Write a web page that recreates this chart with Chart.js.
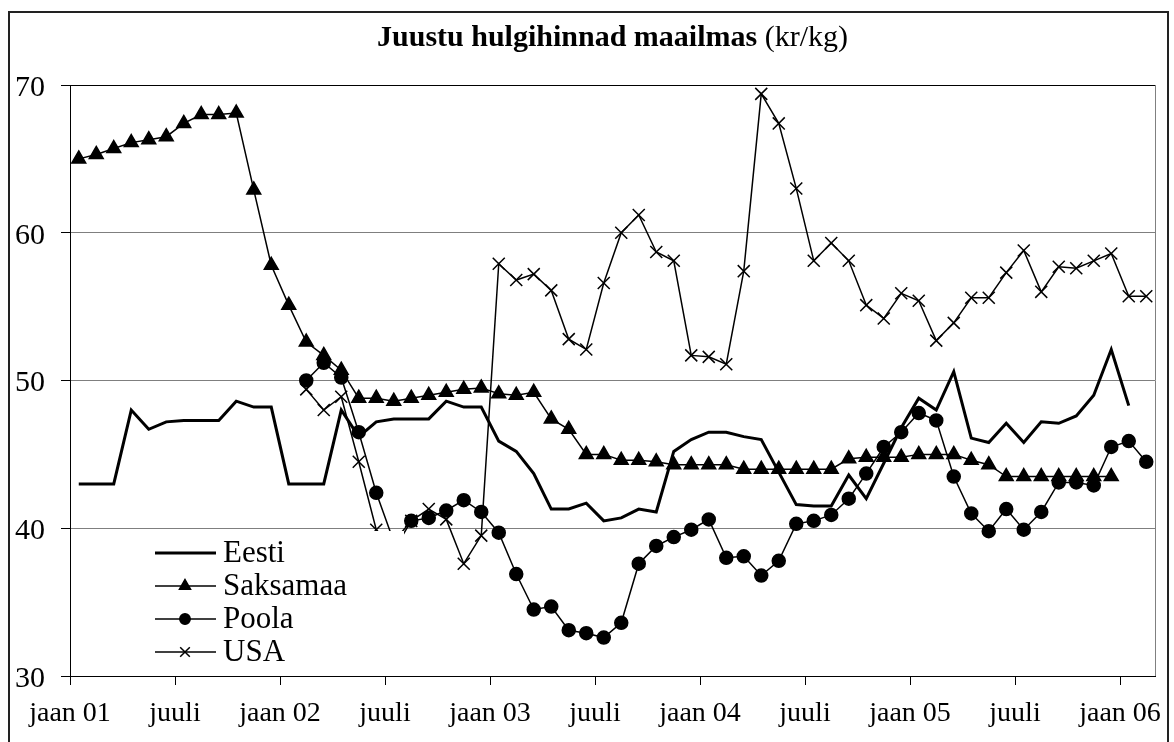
<!DOCTYPE html>
<html>
<head>
<meta charset="utf-8">
<script src="https://cdn.jsdelivr.net/npm/chart.js@4.4.1/dist/chart.umd.min.js"></script>
<style>
  html, body { margin:0; padding:0; background:#fff; }
  #wrap { width:1174px; height:742px; }
</style>
</head>
<body>
<div id="wrap"><canvas id="chart1" width="1174" height="742"></canvas></div>
<script>
// ── DATA ──────────────────────────────────────────────────
// monthly, jaan 2001 .. veebr 2006 (62 months)
const MONTH_NAMES = ['jaan','veebr','märts','apr','mai','juuni','juuli','aug','sept','okt','nov','dets'];
const months = [];
for (let y = 1; y <= 6; y++) MONTH_NAMES.forEach(m => months.push(m + ' 0' + y));
months.length = 62;

const TICK_LABELS = ['jaan 01','juuli','jaan 02','juuli','jaan 03','juuli','jaan 04','juuli','jaan 05','juuli','jaan 06'];

const eesti = [
  43.0,43.0,43.0,48.0,46.7,47.2,47.3,47.3,47.3,48.6,48.2,48.2,
  43.0,43.0,43.0,48.0,46.2,47.2,47.4,47.4,47.4,48.6,48.2,48.2,
  45.9,45.2,43.7,41.3,41.3,41.7,40.5,40.7,41.3,41.1,45.2,46.0,
  46.5,46.5,46.2,46.0,43.8,41.6,41.5,41.5,43.6,42.0,44.4,46.8,
  48.8,48.0,50.6,46.1,45.8,47.1,45.8,47.2,47.1,47.6,49.0,52.1,
  48.3,null
];
const saksamaa = [
  65.0,65.3,65.7,66.1,66.3,66.5,67.4,68.0,68.0,68.1,62.9,57.8,
  55.1,52.6,51.7,50.7,48.8,48.8,48.6,48.8,49.0,49.2,49.4,49.5,
  49.1,49.0,49.2,47.4,46.7,45.0,45.0,44.6,44.6,44.5,44.3,44.3,
  44.3,44.3,44.0,44.0,44.0,44.0,44.0,44.0,44.7,44.8,44.8,44.8,
  45.0,45.0,45.0,44.6,44.3,43.5,43.5,43.5,43.5,43.5,43.5,43.5,
  null,null
];
const poola = [
  null,null,null,null,null,null,null,null,null,null,null,null,
  null,50.0,51.2,50.2,46.5,42.4,39.1,40.5,40.7,41.2,41.9,41.1,
  39.7,36.9,34.5,34.7,33.1,32.9,32.6,33.6,37.6,38.8,39.4,39.9,
  40.6,38.0,38.1,36.8,37.8,40.3,40.5,40.9,42.0,43.7,45.5,46.5,
  47.8,47.3,43.5,41.0,39.8,41.3,39.9,41.1,43.1,43.1,42.9,45.5,
  45.9,44.5
];
const usa = [
  null,null,null,null,null,null,null,null,null,null,null,null,
  null,49.4,48.0,48.9,44.5,39.9,38.5,40.5,41.3,40.6,37.6,39.5,
  57.9,56.8,57.2,56.1,52.8,52.1,56.6,60.0,61.2,58.7,58.1,51.7,
  51.6,51.1,57.4,69.4,67.4,63.0,58.1,59.3,58.1,55.1,54.2,55.9,
  55.4,52.7,53.9,55.6,55.6,57.3,58.8,56.0,57.7,57.6,58.1,58.6,
  55.7,55.7
];

// ── HELPERS ───────────────────────────────────────────────
const FONT = "'Liberation Serif','Times New Roman',serif";

// each month sits in the middle of its slot
const toPts = arr => arr.map((v, i) => ({ x: i + 0.5, y: v }));

const SERIES = [
  { label:'Eesti',    data:eesti,    width:3,   style:false,      radius:0 },
  { label:'Saksamaa', data:saksamaa, width:1.5, style:'triangle', radius:8 },
  { label:'Poola',    data:poola,    width:1.5, style:'circle',   radius:6.5 },
  { label:'USA',      data:usa,      width:1.5, style:'crossRot', radius:8.5 },
];

// ── PLUGINS ───────────────────────────────────────────────
const framePlugin = {
  id:'frame',
  beforeDraw(chart) {
    const c = chart.ctx;
    c.save();
    c.fillStyle = '#fff';
    c.fillRect(0, 0, chart.width, chart.height);
    c.strokeStyle = '#222';
    c.lineWidth = 2;
    c.strokeRect(9, 12, 1159, 760);
    c.restore();
  },
  afterDraw(chart) {
    const c = chart.ctx, a = chart.chartArea;
    c.save();
    // plot area right edge
    c.strokeStyle = '#808080';
    c.lineWidth = 1;
    c.beginPath();
    c.moveTo(a.right + 0.5, a.top);
    c.lineTo(a.right + 0.5, a.bottom);
    c.stroke();
    // title: bold part + plain unit
    const bold = 'Juustu hulgihinnad maailmas', plain = ' (kr/kg)';
    c.fillStyle = '#000';
    c.textBaseline = 'alphabetic';
    c.font = 'bold 30px ' + FONT;
    const wb = c.measureText(bold).width;
    c.font = '30px ' + FONT;
    const wp = c.measureText(plain).width;
    const x0 = (a.left + a.right) / 2 - (wb + wp) / 2;
    c.font = 'bold 30px ' + FONT;
    c.fillText(bold, x0, 46);
    c.font = '30px ' + FONT;
    c.fillText(plain, x0 + wb, 46);
    c.restore();
  }
};

// legend box sits inside the plot, white fill over the lines
const legendBox = {
  id:'legendBox',
  afterDatasetsDraw(chart) {
    const c = chart.ctx;
    c.save();
    c.fillStyle = '#fff';
    c.fillRect(145, 531, 259, 143);
    c.font = '31px ' + FONT;
    c.textBaseline = 'middle';
    c.textAlign = 'left';
    SERIES.forEach((s, i) => {
      const y = 553 + i * 33;
      c.strokeStyle = '#000';
      c.lineWidth = s.width;
      c.beginPath();
      c.moveTo(155, y);
      c.lineTo(216, y);
      c.stroke();
      if (s.style) {
        Chart.helpers.drawPoint(c, {
          pointStyle:s.style, radius:s.radius * 0.8, borderWidth:1.5, rotation:0
        }, 185, y);
        c.fillStyle = '#000';
        if (s.style !== 'crossRot') c.fill();
      }
      c.fillStyle = '#000';
      c.fillText(s.label, 223, y + 1);
    });
    c.restore();
  }
};

// ── CHART ─────────────────────────────────────────────────
const ctx = document.getElementById('chart1').getContext('2d');
new Chart(ctx, {
  type:'line',
  data:{
    datasets: SERIES.map(s => ({
      label:s.label,
      data:toPts(s.data),
      borderColor:'#000',
      backgroundColor:'#000',
      borderWidth:s.width,
      pointStyle:s.style || 'circle',
      pointRadius:s.radius,
      pointBorderWidth:1.5,
      pointBackgroundColor:'#000',
      pointBorderColor:'#000',
      tension:0,
      fill:false,
      spanGaps:false,
    }))
  },
  options:{
    responsive:false,
    animation:false,
    layout:{ padding:{ top:85, right:19, left:0, bottom:0 } },
    plugins:{ legend:{ display:false }, tooltip:{ enabled:false }, title:{ display:false } },
    scales:{
      x:{
        type:'linear', min:0, max:62,
        afterFit: s => { s.height = 66; },
        afterBuildTicks: s => { s.ticks = TICK_LABELS.map((_, i) => ({ value:i * 6 })); },
        ticks:{ autoSkip:false, maxRotation:0, padding:12, color:'#000',
          font:{ family:FONT, size:28 },
          callback: v => TICK_LABELS[Math.round(v / 6)] },
        grid:{ drawOnChartArea:false, drawTicks:true, tickLength:9, tickColor:'#000', tickWidth:1 },
        border:{ display:true, color:'#000', width:1 },
      },
      y:{
        min:30, max:70,
        afterFit: s => { s.width = 70; },
        ticks:{ stepSize:10, padding:16, labelOffset:3, color:'#000', font:{ family:FONT, size:30 } },
        grid:{
          color: c => (c.tick && (c.tick.value === 70 || c.tick.value === 30)) ? '#000' : '#7f7f7f',
          lineWidth:1, drawTicks:true, tickLength:9, tickColor:'#000'
        },
        border:{ display:true, color:'#000', width:1 },
      }
    }
  },
  plugins:[framePlugin, legendBox]
});
</script>
</body>
</html>
